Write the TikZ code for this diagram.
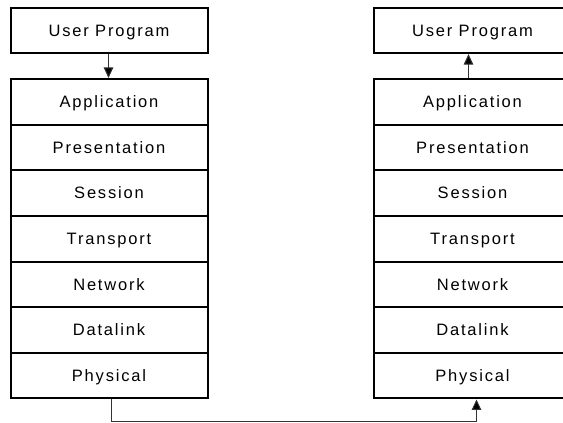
\documentclass[tikz,border=0pt]{standalone}
\usepackage{fontspec}
\setmainfont{Liberation Sans}[LetterSpace=11]
\usetikzlibrary{arrows.meta}
\begin{document}
\begin{tikzpicture}[x=1pt,y=-1pt,
  layer/.style={draw=black, line width=2pt, fill=white,
    minimum width=197pt, minimum height=45.64pt, inner sep=0pt,
    text height=11.8pt, text depth=0pt,
    font=\fontsize{16.5}{20}\selectfont},
  prog/.style={layer, minimum height=44.7pt},
  link/.style={draw=black!80, line width=1pt,
    -{Triangle[length=10.5pt,width=9.5pt,fill=black]}}]
  \useasboundingbox (0,0) rectangle (563,423);
  \begin{scope}
    \clip (0,0) rectangle (563,423);
    % user programs on top of each stack
    \node[prog] (lu) at (109,30.7) {User Program};
    \node[prog] (ru) at (472.5,30.7) {User Program};
    % the seven layers of each stack
    \foreach \name/\t [count=\i from 0] in {app/Application, pre/Presentation,
        ses/Session, tra/Transport, net/Network, dat/Datalink, phy/Physical} {
      \node[layer] (l\name) at (109,{101.8+45.64*\i}) {\t};
      \node[layer] (r\name) at (472.5,{101.8+45.64*\i}) {\t};
    }
    % data flow down the sender, across the wire, up the receiver
    \draw[link] ([xshift=-0.5pt]lu.south) -- ([xshift=-0.5pt]lapp.north);
    \draw[link] ([xshift=-4pt]rapp.north) -- ([xshift=-4pt]ru.south);
    \coordinate (w1) at ([xshift=2.5pt,yshift=-22.5pt]lphy.south);
    \draw[link] ([xshift=2.5pt]lphy.south) -- (w1) -| ([xshift=4pt]rphy.south);
  \end{scope}
\end{tikzpicture}
\end{document}
